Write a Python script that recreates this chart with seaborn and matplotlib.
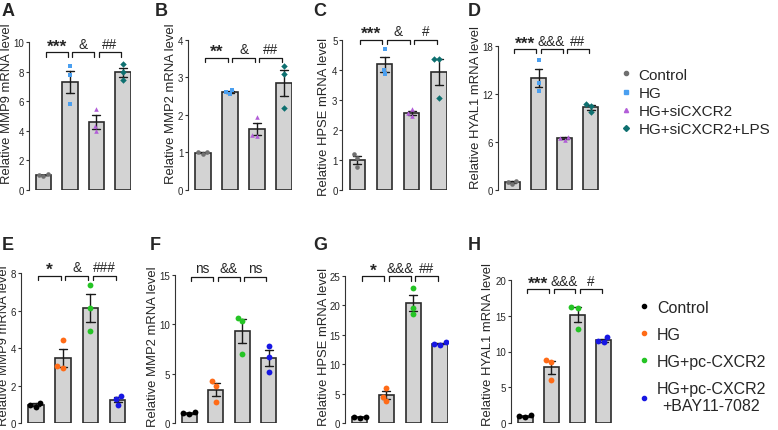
import numpy as np
import pandas as pd
import matplotlib.pyplot as plt
import seaborn as sns
from matplotlib.lines import Line2D

# ---- data (3 replicates per group) ----
groups_top = ['Control', 'HG', 'HG+siCXCR2', 'HG+siCXCR2+LPS']
groups_bot = ['Control', 'HG', 'HG+pc-CXCR2', 'HG+pc-CXCR2\n+BAY11-7082']

colors_top = ['#707070', '#4a9ff0', '#b25ed8', '#0e7070']
markers_top = ['o', 's', '^', 'D']
colors_bot = ['#000000', '#ff6b17', '#25c425', '#1717e3']
markers_bot = ['o', 'o', 'o', 'o']

a_mmp9 = [[1.05, 1.00, 0.97], [8.35, 7.75, 5.80], [5.50, 4.30, 4.00], [8.50, 7.95, 7.40]]
b_mmp2 = [[1.02, 1.00, 0.97], [2.66, 2.60, 2.55], [1.95, 1.47, 1.45], [3.30, 3.10, 2.17]]
c_hpse = [[1.20, 1.08, 0.75], [4.68, 4.00, 3.85], [2.68, 2.55, 2.45], [4.37, 4.37, 3.07]]
d_hyal1 = [[1.20, 1.00, 0.85], [16.3, 13.4, 12.4], [6.70, 6.50, 6.30], [10.8, 10.6, 9.80]]
e_mmp9 = [[1.10, 1.00, 0.88], [4.45, 3.05, 2.95], [7.40, 6.15, 4.90], [1.45, 1.30, 1.00]]
f_mmp2 = [[1.10, 1.00, 0.90], [4.30, 3.80, 2.15], [10.7, 10.3, 7.00], [7.85, 6.75, 5.15]]
g_hpse = [[1.05, 1.00, 0.98], [6.00, 4.50, 3.70], [23.0, 19.6, 18.5], [13.7, 13.5, 13.3]]
h_hyal1 = [[1.10, 1.00, 0.90], [8.80, 8.60, 6.00], [16.2, 16.1, 13.1], [12.0, 11.5, 11.3]]

ylabels = ['Relative MMP9 mRNA level', 'Relative MMP2 mRNA level',
           'Relative HPSE mRNA level', 'Relative HYAL1 mRNA level']
yticks_top = [[0, 2, 4, 6, 8, 10], [0, 1, 2, 3, 4], [0, 1, 2, 3, 4, 5], [0, 6, 12, 18]]
yticks_bot = [[0, 2, 4, 6, 8], [0, 5, 10, 15], [0, 5, 10, 15, 20, 25], [0, 5, 10, 15, 20]]

sig_top = [['***', '&', '##'], ['**', '&', '##'], ['***', '&', '#'], ['***', '&&&', '##']]
sig_bot = [['*', '&', '###'], ['ns', '&&', 'ns'], ['*', '&&&', '##'], ['***', '&&&', '#']]
sig_y_top = [9.3, 3.52, 5.0, 17.66]
sig_y_bot = [7.87, 14.8, 24.9, 18.7]

letters_top = ['A', 'B', 'C', 'D']
letters_bot = ['E', 'F', 'G', 'H']

sns.set_style('white')
plt.rcParams['font.family'] = ['Liberation Sans', 'DejaVu Sans']

W, H = 778, 431
fig = plt.figure(figsize=(W / 100, H / 100), dpi=100)

# axes boxes in pixels: left, width, top, bottom
boxes_top = [(28.9, 102, 43, 191), (188.2, 104, 40.7, 191),
             (342.4, 104.6, 40.7, 191), (498, 100.7, 47.3, 191.3)]
boxes_bot = [(20.9, 105, 274.3, 424.3), (174.5, 102, 276, 424.3),
             (345.0, 103, 276.7, 424.3), (511.0, 100.5, 280.7, 424.3)]
# y-label anchor: right edge x, vertical centre y (pixels)
lab_top = [(13, 104), (177, 104), (330, 117), (482, 107.5)]
lab_bot = [(10.5, 346), (159, 347), (330, 347), (494, 345)]
letter_pos_top = [(2, 3), (155, 3), (313, 3), (468, 3)]
letter_pos_bot = [(2, 237), (150, 237), (313, 237), (468, 237)]


def to_frame(values, groups):
    rows = []
    for g, vals in zip(groups, values):
        for v in vals:
            rows.append({'group': g, 'value': v})
    return pd.DataFrame(rows)


def draw_panel(box, values, groups, colors, markers, msize, ylabel, lab, ticks,
               sigs, sig_y, letter, lpos):
    l, w, t, b = box
    ax = fig.add_axes([l / W, 1 - b / H, w / W, (b - t) / H])
    df = to_frame(values, groups)
    sns.barplot(data=df, x='group', y='value', order=groups, errorbar='se',
                color='#d3d3d3', edgecolor='#2b2b2b', linewidth=1.2, width=0.57,
                capsize=0.3, err_kws={'color': '#1a1a1a', 'linewidth': 1.0}, ax=ax)
    for g, c, m in zip(groups, colors, markers):
        sns.swarmplot(data=df[df['group'] == g], x='group', y='value', order=groups,
                      color=c, marker=m, size=msize, linewidth=0, ax=ax, zorder=4)
    ymax = ticks[-1]
    ax.set_ylim(0, ymax)
    ax.set_xlim(-0.55, 3.3)
    ax.set_yticks(ticks)
    ax.set_xticks([])
    ax.set_xlabel('')
    ax.set_ylabel(ylabel, fontsize=9.4)
    ax.yaxis.set_label_coords((lab[0] - l) / w, (b - lab[1]) / (b - t))
    for s in ['top', 'right', 'bottom']:
        ax.spines[s].set_visible(False)
    ax.spines['left'].set_color('#333333')
    ax.spines['left'].set_linewidth(0.8)
    ax.spines['left'].set_bounds(0, ymax)
    ax.tick_params(axis='y', left=True, length=2.5, width=0.8, color='#333333',
                   labelsize=7, pad=1)
    ax.patch.set_alpha(0)
    h = ymax * 0.03
    for i, s in enumerate(sigs):
        x0, x1 = i + 0.08, i + 0.92
        ax.plot([x0, x0, x1, x1], [sig_y - h, sig_y, sig_y, sig_y - h],
                color='#1a1a1a', linewidth=0.9, clip_on=False)
        if s.startswith('*'):
            ax.text(i + 0.5, sig_y - ymax * 0.01, s, ha='center', va='bottom',
                    fontsize=12.5, fontweight='bold')
        else:
            ax.text(i + 0.5, sig_y + ymax * 0.01, s, ha='center', va='bottom',
                    fontsize=9.8)
    fig.text(lpos[0] / W, 1 - lpos[1] / H, letter, ha='left', va='top',
             fontsize=13, fontweight='bold')
    return ax


data_top = [a_mmp9, b_mmp2, c_hpse, d_hyal1]
data_bot = [e_mmp9, f_mmp2, g_hpse, h_hyal1]

for k in range(4):
    draw_panel(boxes_top[k], data_top[k], groups_top, colors_top, markers_top, 3.3,
               ylabels[k], lab_top[k], yticks_top[k], sig_top[k], sig_y_top[k],
               letters_top[k], letter_pos_top[k])
    draw_panel(boxes_bot[k], data_bot[k], groups_bot, colors_bot, markers_bot, 4.2,
               ylabels[k], lab_bot[k], yticks_bot[k], sig_bot[k], sig_y_bot[k],
               letters_bot[k], letter_pos_bot[k])

handles_top = [Line2D([], [], linestyle='', marker=m, color=c, markersize=3)
               for c, m in zip(colors_top, markers_top)]
handles_bot = [Line2D([], [], linestyle='', marker=m, color=c, markersize=3)
               for c, m in zip(colors_bot, markers_bot)]

fig.legend(handles_top, groups_top, loc='upper left', bbox_to_anchor=(611 / W, 1 - 61 / H),
           frameon=False, fontsize=11, handletextpad=0.3, labelspacing=0.28,
           handlelength=1.0, borderpad=0)
leg = fig.legend(handles_bot, groups_bot, loc='upper left', bbox_to_anchor=(628 / W, 1 - 293 / H),
                 frameon=False, fontsize=11.5, handletextpad=0.3, labelspacing=0.75,
                 handlelength=1.0, borderpad=0)
for txt in leg.get_texts():
    txt.set_multialignment('center')

fig.savefig('out.png', dpi=100)
